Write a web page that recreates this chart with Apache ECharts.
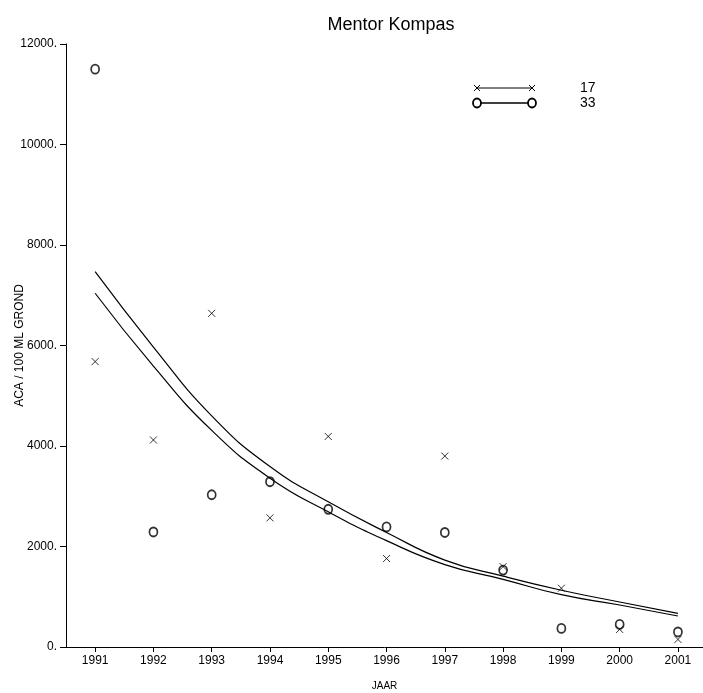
<!DOCTYPE html>
<html>
<head>
<meta charset="utf-8">
<script src="https://cdn.jsdelivr.net/npm/echarts@6/dist/echarts.min.js"></script>
<style>html,body{margin:0;padding:0;background:#fff}#c{width:703px;height:693px}</style>
</head>
<body>
<div id="c"></div>
<script>
const years = [1991, 1992, 1993, 1994, 1995, 1996, 1997, 1998, 1999, 2000, 2001];
const series17 = [5680, 4120, 6640, 2570, 4190, 1760, 3800, 1600, 1170, 350, 150];
const series33 = [11500, 2290, 3030, 3290, 2740, 2390, 2280, 1530, 370, 450, 300];
const fit17 = [7470, 5970, 4600, 3590, 2890, 2280, 1730, 1410, 1130, 896, 670];
const fit33 = [7040, 5590, 4310, 3360, 2690, 2116, 1640, 1347, 1041, 836, 617];
const yTicks = [0, 2000, 4000, 6000, 8000, 10000, 12000];
const names = ['17', '33'];

const FONT = '"Liberation Sans Narrow", "Liberation Sans", sans-serif';
const pair = (xs, ys) => xs.map((x, i) => [x, ys[i]]);
const CROSS = 'path://M0,0L10,10M10,0L0,10';

const chart = echarts.init(document.getElementById('c'), null, {renderer: 'canvas'});
chart.setOption({
  backgroundColor: '#fff',
  animation: false,
  title: {
    text: 'Mentor Kompas', left: 386, top: 11, textAlign: 'center',
    textStyle: {fontFamily: FONT, fontSize: 18, fontWeight: 'normal', color: '#000'}
  },
  grid: {left: 66, right: 0, top: 44, bottom: 46, containLabel: false, outerBoundsMode: 'none'},
  xAxis: {
    type: 'value', min: 1990.5, max: 2001.43,
    name: 'JAAR', nameLocation: 'middle', nameGap: 34, nameMoveOverlap: false,
    nameTextStyle: {fontFamily: FONT, fontSize: 10, color: '#000'},
    axisLine: {lineStyle: {color: '#000', width: 1}},
    axisTick: {show: true, length: 5, lineStyle: {color: '#000'}, customValues: years},
    axisLabel: {customValues: years, fontFamily: FONT, fontSize: 12, color: '#000', margin: 8,
      formatter: v => String(v)},
    splitLine: {show: false}
  },
  yAxis: {
    type: 'value', min: 0, max: 12000, interval: 2000,
    name: 'ACA / 100 ML GROND', nameLocation: 'middle', nameGap: 40, nameRotate: 90,
    nameMoveOverlap: false,
    nameTextStyle: {fontFamily: FONT, fontSize: 12, color: '#000'},
    axisLine: {show: true, lineStyle: {color: '#000', width: 1}},
    axisTick: {show: true, length: 6, lineStyle: {color: '#000'}},
    axisLabel: {fontFamily: FONT, fontSize: 12, color: '#000', margin: 9,
      formatter: v => yTicks.includes(v) ? v + '.' : ''},
    splitLine: {show: false}
  },
  series: [
    {
      name: names[0] + ' fit', type: 'line', data: pair(years, fit17), smooth: true,
      showSymbol: false, silent: true, lineStyle: {color: '#000', width: 1.2}, z: 2
    },
    {
      name: names[1] + ' fit', type: 'line', data: pair(years, fit33), smooth: true,
      showSymbol: false, silent: true, lineStyle: {color: '#000', width: 1.2}, z: 2
    },
    {
      name: names[0], type: 'scatter', data: pair(years, series17),
      symbol: CROSS, symbolSize: 7,
      itemStyle: {color: 'none', borderColor: '#000', borderWidth: 1}, z: 3
    },
    {
      name: names[1], type: 'scatter', data: pair(years, series33),
      symbol: 'circle', symbolSize: [8, 9],
      itemStyle: {color: 'none', borderColor: '#000', borderWidth: 1.8}, z: 3
    }
  ],
  graphic: [
    {type: 'line', shape: {x1: 477, y1: 88, x2: 532, y2: 88}, style: {stroke: '#000', lineWidth: 1}},
    {type: 'polyline', shape: {points: [[474, 85], [480, 91]]}, style: {stroke: '#000', lineWidth: 1, fill: null}},
    {type: 'polyline', shape: {points: [[480, 85], [474, 91]]}, style: {stroke: '#000', lineWidth: 1, fill: null}},
    {type: 'polyline', shape: {points: [[529, 85], [535, 91]]}, style: {stroke: '#000', lineWidth: 1, fill: null}},
    {type: 'polyline', shape: {points: [[535, 85], [529, 91]]}, style: {stroke: '#000', lineWidth: 1, fill: null}},
    {type: 'line', shape: {x1: 477, y1: 103, x2: 532, y2: 103}, style: {stroke: '#000', lineWidth: 1.6}},
    {type: 'ellipse', shape: {cx: 477, cy: 103, rx: 4, ry: 4.5}, style: {stroke: '#000', lineWidth: 1.8, fill: '#fff'}},
    {type: 'ellipse', shape: {cx: 532, cy: 103, rx: 4, ry: 4.5}, style: {stroke: '#000', lineWidth: 1.8, fill: '#fff'}},
    {type: 'text', x: 580, y: 88, style: {text: names[0], font: '14px ' + FONT, fill: '#000', textVerticalAlign: 'middle'}},
    {type: 'text', x: 580, y: 103, style: {text: names[1], font: '14px ' + FONT, fill: '#000', textVerticalAlign: 'middle'}}
  ]
});
</script>
</body>
</html>
